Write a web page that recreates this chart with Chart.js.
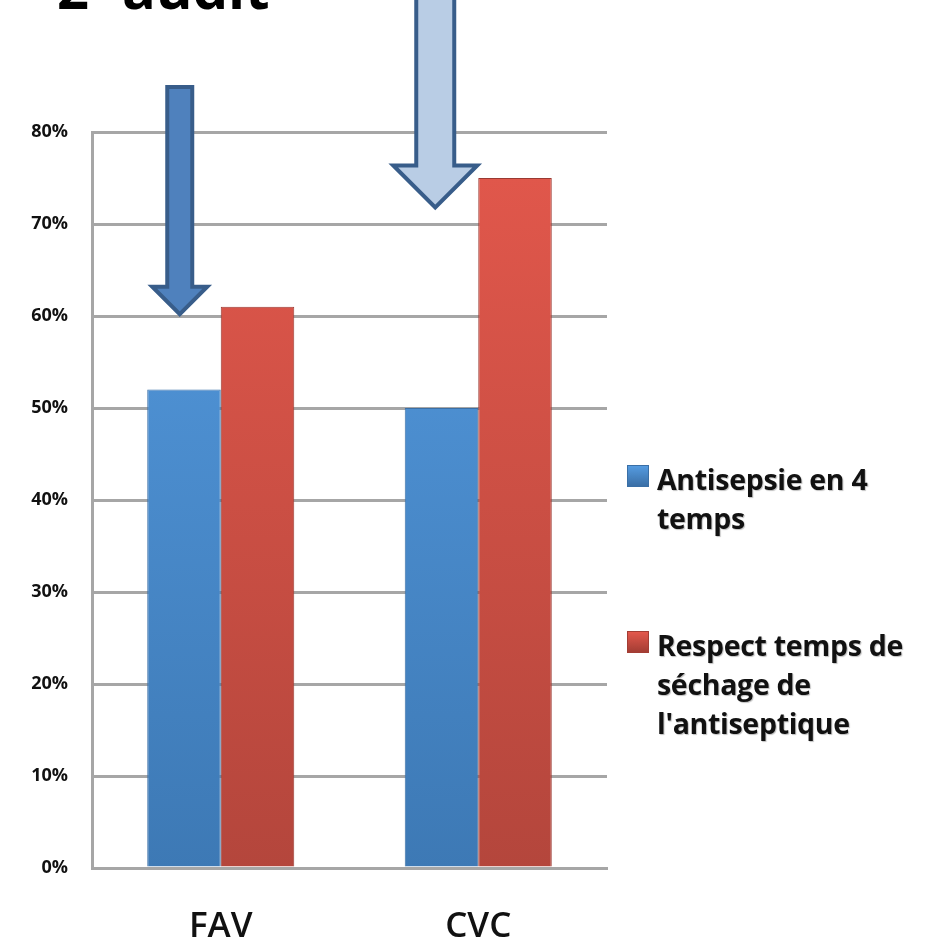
<!DOCTYPE html>
<html>
<head>
<meta charset="utf-8">
<script src="https://cdn.jsdelivr.net/npm/chart.js@4/dist/chart.umd.min.js"></script>
<style>
  html, body { margin: 0; padding: 0; background: #fff; }
  #wrap { position: relative; width: 945px; height: 945px; }
  #legend {
    position: absolute; left: 627px; top: 460px; width: 318px;
    font-family: "Open Sans", sans-serif; font-weight: 700; font-size: 28.5px;
    line-height: 39px; color: #111; text-shadow: 1px 1px 1px rgba(0,0,0,0.25);
    letter-spacing: -0.3px;
  }
  .item { position: relative; padding-left: 30px; margin-bottom: 88px; }
  .box { position: absolute; left: 0; top: 5px; width: 20px; height: 20px; }
</style>
</head>
<body>
<div id="wrap">
  <canvas id="chart" width="945" height="945"></canvas>
  <div id="legend"></div>
</div>
<script>
const categories = ["FAV", "CVC"];
const antisepsie = [52, 50];
const sechage = [61, 75];
const seriesLabels = [["Antisepsie en 4", "temps"], ["Respect temps de", "séchage de", "l'antiseptique"]];
const yTicks = [0, 10, 20, 30, 40, 50, 60, 70, 80];
const titleParts = ["2", "e", "audit"];

// arrows: category, pixel offset from category centre, top value, tip value
const arrows = [
  { cat: 0, dx: -41, top: 84.9, tip: 60.2, fill: "#4f81bd", head: 55, shaft: 25 },
  { cat: 1, dx: -43, top: 95, tip: 71.8, fill: "#b9cde5", head: 84, shaft: 38 },
];

function grad(ctx, top, bottom) {
  const chart = ctx.chart;
  const area = chart.chartArea;
  if (!area) return top;
  const g = chart.ctx.createLinearGradient(0, area.top, 0, area.bottom);
  g.addColorStop(0, top);
  g.addColorStop(1, bottom);
  return g;
}

const extras = {
  id: "extras",
  beforeDatasetsDraw(chart) {
    const c = chart.ctx;
    // title, top clipped off as in the original
    c.save();
    c.fillStyle = "#000";
    c.textBaseline = "alphabetic";
    c.font = "bold 56px 'Open Sans'";
    c.fillText(titleParts[0], 57, 9);
    c.font = "bold 32px 'Open Sans'";
    c.fillText(titleParts[1], 92, -17);
    c.font = "bold 56px 'Open Sans'";
    c.fillText(titleParts[2], 122, 9);
    c.restore();
  },
  afterDatasetsDraw(chart) {
    const c = chart.ctx;
    const x = chart.scales.x, y = chart.scales.y;
    arrows.forEach((a) => {
      const cx = x.getPixelForValue(a.cat) + a.dx;
      const top = y.getPixelForValue(a.top);
      const tip = y.getPixelForValue(a.tip);
      const headH = a.head * 0.5;
      c.save();
      c.beginPath();
      c.moveTo(cx - a.shaft / 2, top);
      c.lineTo(cx + a.shaft / 2, top);
      c.lineTo(cx + a.shaft / 2, tip - headH);
      c.lineTo(cx + a.head / 2, tip - headH);
      c.lineTo(cx, tip);
      c.lineTo(cx - a.head / 2, tip - headH);
      c.lineTo(cx - a.shaft / 2, tip - headH);
      c.closePath();
      c.fillStyle = a.fill;
      c.fill();
      c.lineWidth = 4;
      c.strokeStyle = "#385d8a";
      c.stroke();
      c.restore();
    });
  },
};

const ctx = document.getElementById("chart").getContext("2d");
const chart = new Chart(ctx, {
  type: "bar",
  data: {
    labels: categories,
    datasets: [
      {
        label: seriesLabels[0].join(" "),
        data: antisepsie,
        backgroundColor: (c) => grad(c, "#559be0", "#3d79b5"),
        borderColor: "#3a6fa6",
        borderWidth: 1,
      },
      {
        label: seriesLabels[1].join(" "),
        data: sechage,
        backgroundColor: (c) => grad(c, "#e3584c", "#b4463c"),
        borderColor: "#9a3a32",
        borderWidth: 1,
      },
    ],
  },
  options: {
    responsive: false,
    animation: false,
    categoryPercentage: 0.571,
    barPercentage: 1,
    layout: { padding: { top: 132, right: 338, left: 0, bottom: 0 } },
    plugins: { legend: { display: false }, tooltip: { enabled: false } },
    scales: {
      x: {
        grid: { display: false, drawTicks: false },
        border: { color: "#a6a6a6", width: 3 },
        ticks: {
          padding: 38,
          color: "#111",
          font: { family: "Open Sans", size: 35, weight: "600" },
        },
        afterFit: (s) => { s.height = 77; },
      },
      y: {
        min: 0,
        max: 80,
        afterBuildTicks: (s) => { s.ticks = yTicks.map((v) => ({ value: v })); },
        grid: { color: "#a6a6a6", lineWidth: 3, drawTicks: false },
        border: { color: "#a6a6a6", width: 3 },
        ticks: {
          padding: 24,
          color: "#111",
          font: { family: "Open Sans", size: 18, weight: "bold" },
          callback: (v) => v + "%",
        },
        afterFit: (s) => { s.width = 92; },
      },
    },
  },
  plugins: [extras],
});

const legend = document.getElementById("legend");
const boxColors = [["#559be0", "#3a6fa6"], ["#e3584c", "#a33d34"]];
seriesLabels.forEach((lines, i) => {
  const item = document.createElement("div");
  item.className = "item";
  const box = document.createElement("span");
  box.className = "box";
  box.style.background = "linear-gradient(" + boxColors[i][0] + "," + boxColors[i][1] + ")";
  box.style.border = "1px solid " + boxColors[i][1];
  item.appendChild(box);
  item.innerHTML += lines.join("<br>");
  legend.appendChild(item);
});
</script>
</body>
</html>
